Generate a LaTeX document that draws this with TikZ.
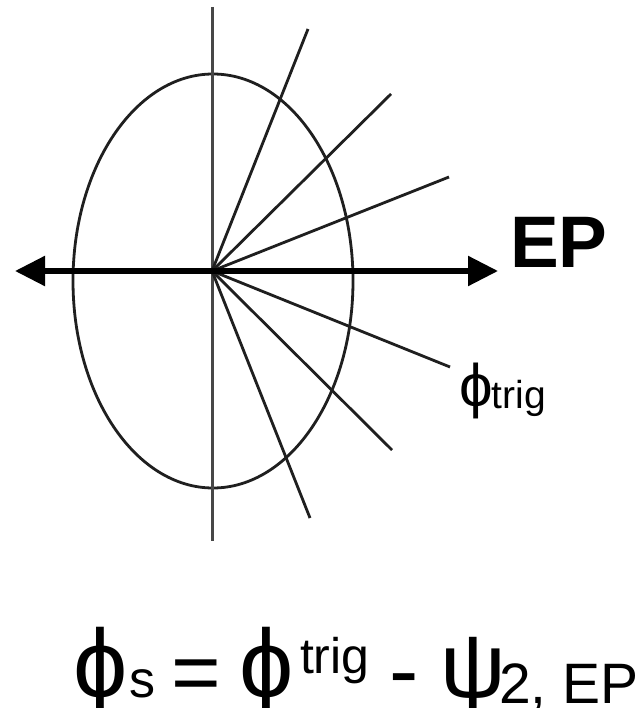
\documentclass[tikz,border=0pt]{standalone}
\usepackage{fontspec}
\setmainfont{Liberation Sans}
\usetikzlibrary{arrows.meta}
\tikzset{
  thinline/.style={line width=2.8pt, draw=black!88},
  axisline/.style={line width=5.5pt, draw=black, {Triangle[length=30pt,width=29pt]}-{Triangle[length=30pt,width=29pt]}},
  txt/.style={inner sep=0pt, outer sep=0pt, anchor=base west},
}
\newcommand{\fsz}[1]{\fontsize{#1}{#1}\selectfont}
\begin{document}
\begin{tikzpicture}[x=1pt,y=-1pt]
\useasboundingbox (0,0) rectangle (637,708);
\fill[white] (0,0) rectangle (637,708);
\coordinate (O) at (212,271);
\coordinate (vtop) at (212,7);
\coordinate (vbot) at (212,541);
\coordinate (hl) at (15,271);
\coordinate (hr) at (498,271);
\coordinate (r1) at (308,29);
\coordinate (r2) at (391,94);
\coordinate (r3) at (449,177);
\coordinate (r4) at (450,367);
\coordinate (r5) at (392,450);
\coordinate (r6) at (310,518);
% ellipse
\draw[thinline] (213,281) ellipse [x radius=140pt, y radius=207pt];
% vertical axis
\draw[thinline, draw=black!72, line width=3pt] (vtop) -- (vbot);
% rays
\foreach \r in {r1,r2,r3,r4,r5,r6} \draw[thinline] (O) -- (\r);
% horizontal axis
\draw[axisline] (hl) -- (hr);
% labels
\node[txt, font=\bfseries\fsz{73}] (ep) at (510,267) {EP};
\node[txt, font=\fsz{60}] (phitrig) at (459,406) {ϕ\hspace{-1pt}\raisebox{-2pt}{\fsz{39}trig}};
% formula
\node[txt, font=\fsz{97}] (f1) at (73,697) {ϕ};
\node[txt, font=\fsz{52}] (f2) at (129,697) {s};
\node[txt, font=\fsz{85}] (f3) at (171,701) {=};
\node[txt, font=\fsz{97}] (f4) at (239,697) {ϕ};
\node[txt, font=\fsz{50}] (f5) at (300,673) {trig};
\node[txt, font=\fsz{88}] (f6) at (389,700) {-};
\node[txt, font=\fsz{92}] (f7) at (440,697) {ψ};
\node[txt, font=\fsz{57}] (f8) at (499,703) {2, EP};
\end{tikzpicture}
\end{document}
